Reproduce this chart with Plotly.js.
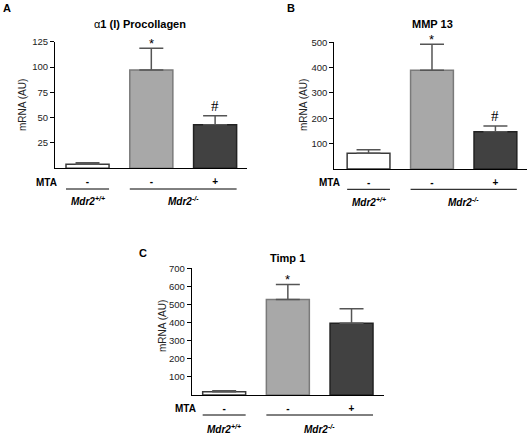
<!DOCTYPE html>
<html><head><meta charset="utf-8">
<script src="https://cdn.plot.ly/plotly-3.0.1.min.js"></script>
<style>html,body{margin:0;padding:0;background:#fff}#chart{width:531px;height:434px}</style>
</head><body><div id="chart"></div>
<script>
// ---- data ----
const groups = [0, 1, 2];
const mtaLabels = ["-", "-", "+"];
const genotypeLabels = ["Mdr2<sup>+/+</sup>", "Mdr2<sup>-/-</sup>"];
const panelLetters = ["A", "B", "C"];
const panelTitles = ["<span style='font-weight:normal'>α</span>1 (I) Procollagen", "MMP 13", "Timp 1"];
const procollagenMean = [4, 97, 43];
const procollagenSEM = [1.5, 21.5, 9];
const mmp13Mean = [62, 390, 147];
const mmp13SEM = [14, 102, 23];
const timp1Mean = [18, 528, 397];
const timp1SEM = [5, 83, 80];
const procollagenSig = ["", "*", "#"];
const mmp13Sig = ["", "*", "#"];
const timp1Sig = ["", "*", ""];
const procollagenTicks = [25, 50, 75, 100, 125];
const mmp13Ticks = [100, 200, 300, 400, 500];
const timp1Ticks = [100, 200, 300, 400, 500, 600, 700];
const yLabel = "mRNA (AU)";

// ---- layout helpers ----
const W = 531, H = 434;
const px = x => x / W;
const py = y => 1 - y / H;
const FONT = "Arial, 'Liberation Sans', sans-serif";
const SERIF = "'Times New Roman', 'Liberation Serif', serif";
const barWidth = 0.675;
const fills = ["#ffffff", "#a8a8a8", "#414141"];
const edges = ["#3a3a3a", "#7a7a7a", "#222222"];

const panels = [
  {mean: procollagenMean, sem: procollagenSEM, sig: procollagenSig, ticks: procollagenTicks,
   xdom: [55, 247], ydom: [168.3, 41.7], xr: [-0.51, 2.5],
   letter: [7, 8], title: [140, 24], ylab: [22, 105], mta: [46, 182], under: 189, geno: 201},
  {mean: mmp13Mean, sem: mmp13SEM, sig: mmp13Sig, ticks: mmp13Ticks,
   xdom: [334.3, 526.5], ydom: [169, 42.3], xr: [-0.54, 2.49],
   letter: [291, 8], title: [432, 24], ylab: [303, 105], mta: [329, 182.5], under: 189.3, geno: 201.5},
  {mean: timp1Mean, sem: timp1SEM, sig: timp1Sig, ticks: timp1Ticks,
   xdom: [191.7, 384], ydom: [395, 268.3], xr: [-0.51, 2.51],
   letter: [143, 253], title: [287, 257.5], ylab: [162, 326], mta: [185, 408.3], under: 415, geno: 428.5}
];

const data = [];
const layout = {
  width: W, height: H, margin: {l: 0, r: 0, t: 0, b: 0},
  paper_bgcolor: "#fff", plot_bgcolor: "#fff", showlegend: false,
  font: {family: FONT, color: "#111"},
  annotations: [], shapes: []
};

panels.forEach((p, i) => {
  const sfx = i === 0 ? "" : String(i + 1);
  const xa = "x" + sfx, ya = "y" + sfx;
  const top = Math.max(...p.ticks);
  data.push({
    type: "bar", x: groups, y: p.mean, xaxis: xa, yaxis: ya, width: barWidth,
    marker: {color: fills, line: {color: edges, width: 1.5}},
    error_y: {type: "data", array: p.sem, arrayminus: p.sem.map(() => 0), symmetric: false,
              color: "#555", thickness: 1.5, width: 12},
    hoverinfo: "skip"
  });
  layout["xaxis" + sfx] = {
    domain: [px(p.xdom[0]), px(p.xdom[1])], range: p.xr, anchor: ya,
    showline: true, linecolor: "#000", linewidth: 1, showgrid: false, zeroline: false,
    tickmode: "array", tickvals: groups, ticktext: mtaLabels, ticks: "",
    ticklabelstandoff: 4,
    tickfont: {family: FONT, size: 10, color: "#000", weight: "bold"}, fixedrange: true
  };
  layout["yaxis" + sfx] = {
    domain: [py(p.ydom[0]), py(p.ydom[1])], range: [0, top], anchor: xa,
    showline: true, linecolor: "#000", linewidth: 1, showgrid: false, zeroline: false,
    tickmode: "array", tickvals: p.ticks, ticks: "outside", ticklen: 4, tickcolor: "#000",
    tickfont: {family: FONT, size: 9.5, color: "#222"}, fixedrange: true
  };
  const A = layout.annotations;
  A.push({xref: "paper", yref: "paper", x: px(p.letter[0]), y: py(p.letter[1]), text: "<b>" + panelLetters[i] + "</b>",
          showarrow: false, xanchor: "center", yanchor: "middle", font: {family: FONT, size: 11, color: "#000"}});
  A.push({xref: "paper", yref: "paper", x: px(p.title[0]), y: py(p.title[1]), text: "<b>" + panelTitles[i] + "</b>",
          showarrow: false, xanchor: "center", yanchor: "middle", font: {family: FONT, size: 11, color: "#000"}});
  A.push({xref: "paper", yref: "paper", x: px(p.ylab[0]), y: py(p.ylab[1]), text: yLabel, textangle: -90,
          showarrow: false, xanchor: "center", yanchor: "middle", font: {family: FONT, size: 10, color: "#222"}});
  A.push({xref: "paper", yref: "paper", x: px(p.mta[0]), y: py(p.mta[1]), text: "<b>MTA</b>",
          showarrow: false, xanchor: "center", yanchor: "middle", font: {family: FONT, size: 10, color: "#000"}});
  p.sig.forEach((s, k) => {
    if (!s) return;
    const isStar = s === "*";
    A.push({xref: xa, yref: ya, x: groups[k], y: p.mean[k] + p.sem[k], text: s, showarrow: false,
            xanchor: "center", yanchor: "bottom", yshift: isStar ? -5 : 0,
            font: {family: isStar ? FONT : SERIF, size: isStar ? 13 : 15, color: "#000"}});
  });
  // genotype group labels and underlines
  const spans = [[groups[0], groups[0]], [groups[1], groups[2]]];
  spans.forEach((sp, k) => {
    layout.shapes.push({type: "line", xref: xa, yref: "paper",
      x0: sp[0] - barWidth / 2, x1: sp[1] + barWidth / 2, y0: py(p.under), y1: py(p.under),
      line: {color: "#000", width: 1}});
    A.push({xref: xa, yref: "paper", x: (sp[0] + sp[1]) / 2, y: py(p.geno), text: "<b><i>" + genotypeLabels[k] + "</i></b>",
            showarrow: false, xanchor: "center", yanchor: "middle", font: {family: FONT, size: 10, color: "#000"}});
  });
});

Plotly.newPlot("chart", data, layout, {displayModeBar: false, staticPlot: true});
</script>
</body></html>
